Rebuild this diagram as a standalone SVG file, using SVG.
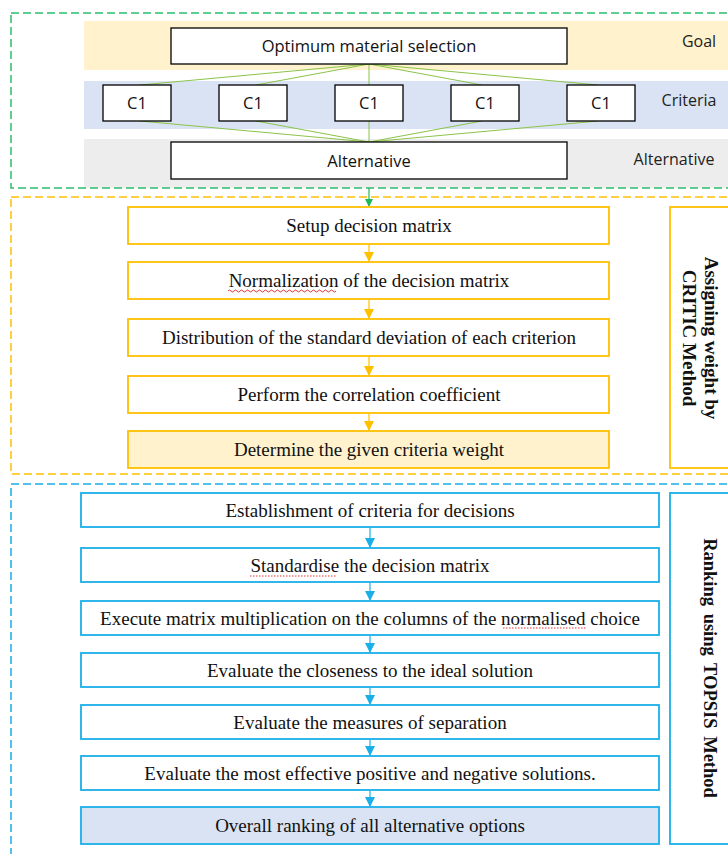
<svg xmlns="http://www.w3.org/2000/svg" width="728" height="854" viewBox="0 0 728 854">
  <style>
    .frame { fill: none; stroke-width: 1.5; stroke-dasharray: 8 4; }
    .sans { font-family: "Open Sans", "Liberation Sans", sans-serif; font-size: 16.5px; fill: #111; }
    .lbl { font-family: "Open Sans", "Liberation Sans", sans-serif; font-size: 16px; fill: #222; }
    .serif { font-family: "Liberation Serif", "Times New Roman", serif; font-size: 19px; fill: #111; }
    .side { font-family: "Liberation Serif", "Times New Roman", serif; font-size: 19px; font-weight: bold; fill: #111; }
    .hbox { fill: #fff; stroke: #000; stroke-width: 1.3; }
    .ybox { fill: #fff; stroke: #FFC000; stroke-width: 1.8; }
    .bbox { fill: #fff; stroke: #1AAFE8; stroke-width: 1.8; }
    .tree { stroke: #8BC34A; stroke-width: 1; fill: none; }
  </style>
  <defs>
    <marker id="arrG" markerWidth="8" markerHeight="8" refX="7" refY="4" orient="auto" markerUnits="userSpaceOnUse">
      <path d="M0,0 L8,4 L0,8 Z" fill="#1DB954"/>
    </marker>
    <marker id="arrY" markerWidth="10" markerHeight="10" refX="9" refY="5" orient="auto" markerUnits="userSpaceOnUse">
      <path d="M0,0 L10,5 L0,10 Z" fill="#FFC000"/>
    </marker>
    <marker id="arrB" markerWidth="10" markerHeight="10" refX="9" refY="5" orient="auto" markerUnits="userSpaceOnUse">
      <path d="M0,0 L10,5 L0,10 Z" fill="#1AAFE8"/>
    </marker>
  </defs>

  <rect width="728" height="854" fill="#fff"/>

  <!-- hierarchy bands -->
  <rect x="84" y="21" width="650" height="49" fill="#FFF2CC"/>
  <rect x="84" y="81" width="650" height="48" fill="#DAE3F3"/>
  <rect x="84" y="139" width="650" height="49" fill="#EDEDED"/>

  <!-- section frames -->
  <rect class="frame" x="11" y="13" width="730" height="175" stroke="#2DBE6C"/>
  <rect class="frame" x="11" y="197" width="730" height="277" stroke="#FFC000"/>
  <rect class="frame" x="11" y="484" width="730" height="380" stroke="#1AAFE8"/>

  <!-- connectors -->
  <g id="connectors">
    <line class="tree" x1="369" y1="64" x2="140" y2="85"/>
    <line class="tree" x1="369" y1="64" x2="256" y2="85"/>
    <line class="tree" x1="369" y1="64" x2="369" y2="85"/>
    <line class="tree" x1="369" y1="64" x2="482" y2="85"/>
    <line class="tree" x1="369" y1="64" x2="598" y2="85"/>
    <line class="tree" x1="140" y1="121" x2="369" y2="142"/>
    <line class="tree" x1="256" y1="121" x2="369" y2="142"/>
    <line class="tree" x1="369" y1="121" x2="369" y2="142"/>
    <line class="tree" x1="482" y1="121" x2="369" y2="142"/>
    <line class="tree" x1="598" y1="121" x2="369" y2="142"/>

    <line x1="369" y1="188" x2="369" y2="206" stroke="#1DB954" stroke-width="1.2" marker-end="url(#arrG)"/>

    <line x1="369" y1="245" x2="369" y2="261" stroke="#FFC000" stroke-width="1.2" marker-end="url(#arrY)"/>
    <line x1="369" y1="300" x2="369" y2="318" stroke="#FFC000" stroke-width="1.2" marker-end="url(#arrY)"/>
    <line x1="369" y1="357" x2="369" y2="375" stroke="#FFC000" stroke-width="1.2" marker-end="url(#arrY)"/>
    <line x1="369" y1="414" x2="369" y2="430" stroke="#FFC000" stroke-width="1.2" marker-end="url(#arrY)"/>

    <line x1="370" y1="528" x2="370" y2="547" stroke="#1AAFE8" stroke-width="1.2" marker-end="url(#arrB)"/>
    <line x1="370" y1="583" x2="370" y2="600" stroke="#1AAFE8" stroke-width="1.2" marker-end="url(#arrB)"/>
    <line x1="370" y1="636" x2="370" y2="652" stroke="#1AAFE8" stroke-width="1.2" marker-end="url(#arrB)"/>
    <line x1="370" y1="688" x2="370" y2="704" stroke="#1AAFE8" stroke-width="1.2" marker-end="url(#arrB)"/>
    <line x1="370" y1="740" x2="370" y2="755" stroke="#1AAFE8" stroke-width="1.2" marker-end="url(#arrB)"/>
    <line x1="370" y1="791" x2="370" y2="806" stroke="#1AAFE8" stroke-width="1.2" marker-end="url(#arrB)"/>
  </g>

  <!-- hierarchy -->
  <g id="goal">
    <rect class="hbox" x="171" y="28" width="396" height="36"/>
    <text class="sans" x="369" y="52" text-anchor="middle">Optimum material selection</text>
  </g>
  <text class="lbl" x="699" y="47" text-anchor="middle">Goal</text>
  <g id="c1a"><rect class="hbox" x="103" y="85" width="68" height="36"/><text class="sans" x="137" y="109" text-anchor="middle">C1</text></g>
  <g id="c1b"><rect class="hbox" x="219" y="85" width="68" height="36"/><text class="sans" x="253" y="109" text-anchor="middle">C1</text></g>
  <g id="c1c"><rect class="hbox" x="335" y="85" width="68" height="36"/><text class="sans" x="369" y="109" text-anchor="middle">C1</text></g>
  <g id="c1d"><rect class="hbox" x="451" y="85" width="68" height="36"/><text class="sans" x="485" y="109" text-anchor="middle">C1</text></g>
  <g id="c1e"><rect class="hbox" x="567" y="85" width="68" height="36"/><text class="sans" x="601" y="109" text-anchor="middle">C1</text></g>
  <text class="lbl" x="689" y="106" text-anchor="middle">Criteria</text>
  <g id="alternative">
    <rect class="hbox" x="171" y="142" width="396" height="37"/>
    <text class="sans" x="369" y="167" text-anchor="middle">Alternative</text>
  </g>
  <text class="lbl" x="674" y="165" text-anchor="middle">Alternative</text>

  <!-- CRITIC weighting -->
  <g id="critic1"><rect class="ybox" x="128" y="207" width="481" height="37"/><text class="serif" x="369" y="232" text-anchor="middle">Setup decision matrix</text></g>
  <g id="critic2"><rect class="ybox" x="128" y="262" width="481" height="37"/><text class="serif" x="369" y="287" text-anchor="middle">Normalization of the decision matrix</text>
    <path d="M228,291 q1.5,-2 3,0 t3,0 t3,0 t3,0 t3,0 t3,0 t3,0 t3,0 t3,0 t3,0 t3,0 t3,0 t3,0 t3,0 t3,0 t3,0 t3,0 t3,0 t3,0 t3,0 t3,0 t3,0 t3,0 t3,0 t3,0 t3,0 t3,0 t3,0 t3,0 t3,0 t3,0 t3,0 t3,0 t3,0 t3,0 t3,0" fill="none" stroke="#E02020" stroke-width="0.9"/></g>
  <g id="critic3"><rect class="ybox" x="128" y="319" width="481" height="37"/><text class="serif" x="369" y="344" text-anchor="middle">Distribution of the standard deviation of each criterion</text></g>
  <g id="critic4"><rect class="ybox" x="128" y="376" width="481" height="37"/><text class="serif" x="369" y="401" text-anchor="middle">Perform the correlation coefficient</text></g>
  <g id="critic5"><rect class="ybox" x="128" y="431" width="481" height="37" style="fill:#FFF2CC"/><text class="serif" x="369" y="456" text-anchor="middle">Determine the given criteria weight</text></g>
  <g id="critic-label">
    <rect class="ybox" x="670" y="207" width="70" height="261"/>
    <text class="side" transform="translate(705,338) rotate(90)" text-anchor="middle">Assigning weight by</text>
    <text class="side" transform="translate(683,338) rotate(90)" text-anchor="middle">CRITIC Method</text>
  </g>

  <!-- TOPSIS ranking -->
  <g id="topsis1"><rect class="bbox" x="81" y="493" width="578" height="34"/><text class="serif" x="370" y="517" text-anchor="middle">Establishment of criteria for decisions</text></g>
  <g id="topsis2"><rect class="bbox" x="81" y="548" width="578" height="34"/><text class="serif" x="370" y="572" text-anchor="middle">Standardise the decision matrix</text>
    <line x1="250" y1="576" x2="337" y2="576" stroke="#E02020" stroke-width="0.9" stroke-dasharray="1.5 1.5"/></g>
  <g id="topsis3"><rect class="bbox" x="81" y="601" width="578" height="34"/><text class="serif" x="370" y="625" text-anchor="middle">Execute matrix multiplication on the columns of the normalised choice</text>
    <line x1="503" y1="628" x2="587" y2="628" stroke="#E02020" stroke-width="0.9" stroke-dasharray="1.5 1.5"/></g>
  <g id="topsis4"><rect class="bbox" x="81" y="653" width="578" height="34"/><text class="serif" x="370" y="677" text-anchor="middle">Evaluate the closeness to the ideal solution</text></g>
  <g id="topsis5"><rect class="bbox" x="81" y="705" width="578" height="34"/><text class="serif" x="370" y="729" text-anchor="middle">Evaluate the measures of separation</text></g>
  <g id="topsis6"><rect class="bbox" x="81" y="756" width="578" height="34"/><text class="serif" x="370" y="780" text-anchor="middle">Evaluate the most effective positive and negative solutions.</text></g>
  <g id="topsis7"><rect class="bbox" x="81" y="807" width="578" height="37" style="fill:#DAE3F3"/><text class="serif" x="370" y="832" text-anchor="middle">Overall ranking of all alternative options</text></g>
  <g id="topsis-label">
    <rect class="bbox" x="670" y="493" width="70" height="351"/>
    <text class="side" transform="translate(704,668) rotate(90)" text-anchor="middle" style="font-size:18.5px" word-spacing="3">Ranking using TOPSIS Method</text>
  </g>
</svg>
